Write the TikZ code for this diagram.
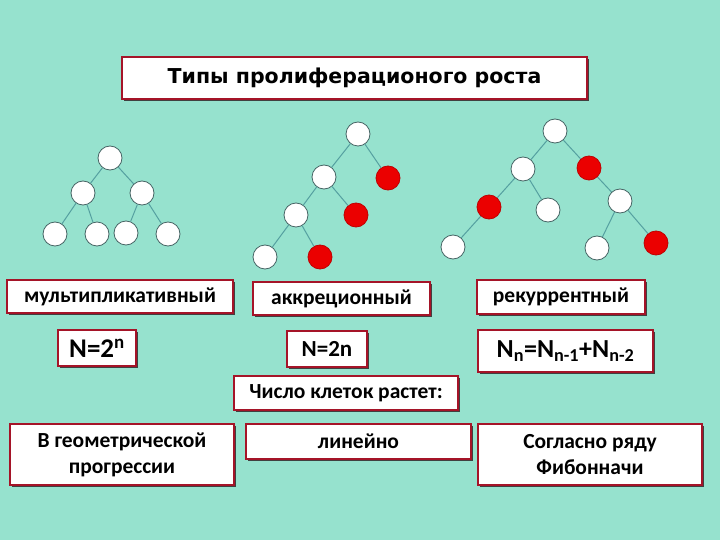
\documentclass[tikz,border=0pt]{standalone}
\usepackage{fontspec}
\setmainfont{Carlito}
\newfontfamily\titlefont{DejaVu Sans}
\usepackage{xcolor}
\usepackage{tikz}
\usetikzlibrary{shadows}
\definecolor{bgcolor}{RGB}{150,226,206}
\definecolor{framecolor}{RGB}{165,20,40}
\definecolor{edgecolor}{RGB}{85,160,160}
\definecolor{cellline}{RGB}{70,100,100}
\definecolor{cellred}{RGB}{235,0,0}

\begin{document}
\begin{tikzpicture}[
    x=1pt, y=-1pt,
    box/.style={draw=framecolor, line width=1.6pt, fill=white, align=center, inner sep=0pt,
        drop shadow={shadow xshift=1.8pt, shadow yshift=-1.8pt, fill=black!75, opacity=1},
        font=\bfseries\fontsize{21.5}{26}\selectfont},
    cell/.style={circle, draw=cellline, line width=0.8pt, fill=white, minimum size=24pt, inner sep=0pt},
    redcell/.style={cell, draw=red!75!black, fill=cellred},
    link/.style={draw=edgecolor, line width=1pt}
]
    \useasboundingbox[fill=bgcolor] (0,0) rectangle (720,540);

    % title
    \node[box, minimum width=465pt, minimum height=42pt, font=\titlefont\bfseries\fontsize{20.5}{24}\selectfont] (title) at (354.5,78) {Типы пролифераци­оного роста};

    % tree 1: multiplicative
    \node[cell] (a0) at (110,158) {};
    \node[cell] (a1) at (83,193) {};
    \node[cell] (a2) at (142,193) {};
    \node[cell] (a3) at (55,234) {};
    \node[cell] (a4) at (97,234) {};
    \node[cell] (a5) at (126,233) {};
    \node[cell] (a6) at (168,234) {};

    % tree 2: accretion
    \node[cell] (b0) at (358,134) {};
    \node[cell] (b1) at (324,177) {};
    \node[redcell] (b2) at (388,178) {};
    \node[cell] (b3) at (296,215) {};
    \node[redcell] (b4) at (356,215) {};
    \node[cell] (b5) at (265,257) {};
    \node[redcell] (b6) at (320,257) {};

    % tree 3: recurrent
    \node[cell] (c0) at (555,131) {};
    \node[cell] (c1) at (523,169) {};
    \node[redcell] (c2) at (589,168) {};
    \node[redcell] (c3) at (489,207) {};
    \node[cell] (c4) at (548,210) {};
    \node[cell] (c5) at (620,201) {};
    \node[cell] (c6) at (453,247) {};
    \node[cell] (c7) at (597,248) {};
    \node[redcell] (c8) at (656,243) {};

    \draw[link] (a0) -- (a1);
    \draw[link] (a0) -- (a2);
    \draw[link] (a1) -- (a3);
    \draw[link] (a1) -- (a4);
    \draw[link] (a2) -- (a5);
    \draw[link] (a2) -- (a6);

    \draw[link] (b0) -- (b1);
    \draw[link] (b0) -- (b2);
    \draw[link] (b1) -- (b3);
    \draw[link] (b1) -- (b4);
    \draw[link] (b3) -- (b5);
    \draw[link] (b3) -- (b6);

    \draw[link] (c0) -- (c1);
    \draw[link] (c0) -- (c2);
    \draw[link] (c1) -- (c3);
    \draw[link] (c1) -- (c4);
    \draw[link] (c3) -- (c6);
    \draw[link] (c2) -- (c5);
    \draw[link] (c5) -- (c7);
    \draw[link] (c5) -- (c8);

    % labels and formulas
    \node[box, minimum width=226pt, minimum height=33pt] (mult) at (120,296.5) {мультипликативный};
    \node[box, minimum width=177pt, minimum height=33pt] (accr) at (341.5,298.5) {аккреционный};
    \node[box, minimum width=168pt, minimum height=34pt] (recur) at (561,297) {рекуррентный};

    \node[box, minimum width=78pt, minimum height=36pt, font=\bfseries\fontsize{27}{30}\selectfont] (formA) at (97,348) {N=2\textsuperscript{n}};
    \node[box, minimum width=80pt, minimum height=36pt, font=\bfseries\fontsize{23}{25}\selectfont] (formB) at (327,349) {N=2n};
    \node[box, minimum width=175pt, minimum height=42pt, font=\bfseries\fontsize{26}{31}\selectfont] (formC) at (565.5,351) {N\textsubscript{n}=N\textsubscript{n-1}+N\textsubscript{n-2}};

    \node[box, minimum width=224pt, minimum height=34pt] (growth) at (346,393) {Число клеток растет:};

    \node[box, minimum width=224pt, minimum height=61pt] (geom) at (122,454.5) {В геометрической\\прогрессии};
    \node[box, minimum width=225pt, minimum height=35pt] (linear) at (358.5,441.5) {линейно};
    \node[box, minimum width=224pt, minimum height=61pt] (fib) at (590,454.5) {Согласно ряду\\Фибонначи};
\end{tikzpicture}
\end{document}
